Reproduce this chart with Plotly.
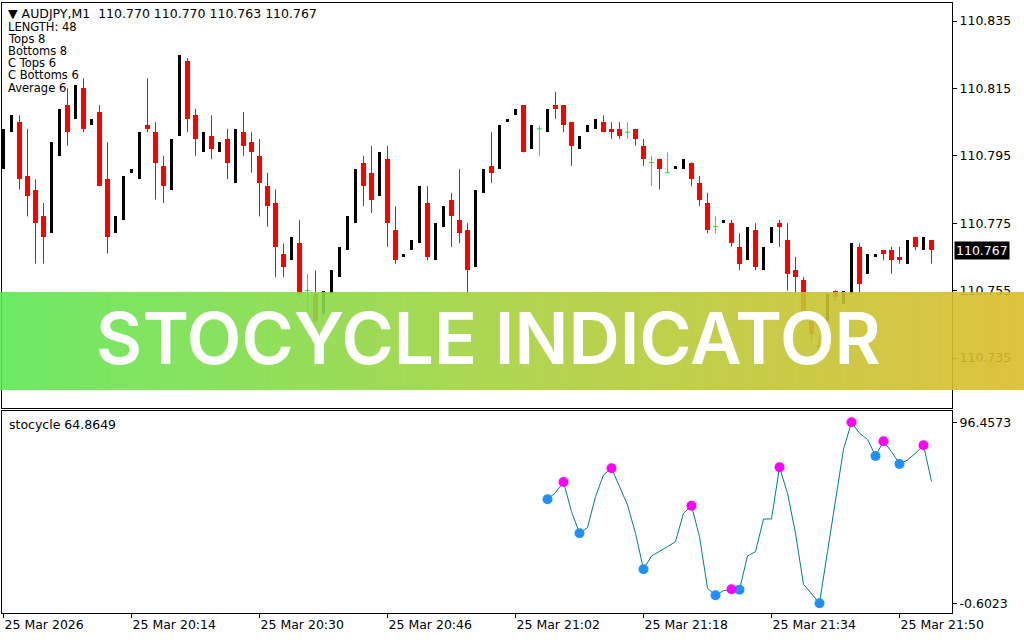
import base64
import struct
import zlib
import plotly.graph_objects as go

W, H = 1024, 640

# ---------------- data ----------------
symbol = "AUDJPY,M1"
time_tick_index = [0, 16, 32, 48, 64, 80, 96, 112]
time_tick_labels = ["25 Mar 2026", "25 Mar 20:14", "25 Mar 20:30", "25 Mar 20:46",
                    "25 Mar 21:02", "25 Mar 21:18", "25 Mar 21:34", "25 Mar 21:50"]
price_ticks = [110.735, 110.755, 110.775, 110.795, 110.815, 110.835]

opens = [110.791, 110.802, 110.805, 110.789, 110.785, 110.777, 110.772, 110.795, 110.810, 110.806,
         110.815, 110.804, 110.808, 110.788, 110.772, 110.776, 110.790, 110.788, 110.804, 110.802,
         110.792, 110.785, 110.801, 110.823, 110.807, 110.796, 110.801, 110.796, 110.800, 110.787,
         110.802, 110.799, 110.795, 110.786, 110.781, 110.766, 110.764, 110.769, 110.755, 110.754,
         110.748, 110.754, 110.759, 110.767, 110.775, 110.793, 110.790, 110.783, 110.794, 110.773,
         110.765, 110.767, 110.769, 110.781, 110.764, 110.774, 110.782, 110.776, 110.773, 110.762,
         110.784, 110.792, 110.791, 110.805, 110.807, 110.810, 110.797, 110.803, 110.802, 110.810,
         110.810, 110.805, 110.797, 110.802, 110.803, 110.805, 110.803, 110.803, 110.802, 110.803,
         110.798, 110.793, 110.794, 110.790, 110.791, 110.791, 110.793, 110.787, 110.781, 110.774,
         110.775, 110.775, 110.768, 110.764, 110.773, 110.761, 110.769, 110.775, 110.770, 110.761,
         110.758, 110.746, 110.739, 110.746, 110.755, 110.751, 110.754, 110.768, 110.760, 110.765,
         110.767, 110.767, 110.765, 110.763, 110.771, 110.767, 110.770]
highs = [110.803, 110.807, 110.807, 110.803, 110.788, 110.781, 110.799, 110.809, 110.815, 110.816,
         110.818, 110.806, 110.810, 110.799, 110.777, 110.789, 110.791, 110.802, 110.818, 110.805,
         110.795, 110.800, 110.825, 110.824, 110.809, 110.802, 110.807, 110.799, 110.803, 110.803,
         110.808, 110.802, 110.800, 110.790, 110.785, 110.769, 110.771, 110.776, 110.760, 110.761,
         110.755, 110.761, 110.768, 110.777, 110.791, 110.795, 110.798, 110.796, 110.798, 110.780,
         110.766, 110.770, 110.786, 110.786, 110.775, 110.780, 110.784, 110.791, 110.775, 110.785,
         110.791, 110.802, 110.804, 110.806, 110.809, 110.810, 110.804, 110.804, 110.809, 110.814,
         110.810, 110.805, 110.801, 110.804, 110.806, 110.807, 110.805, 110.805, 110.805, 110.803,
         110.800, 110.795, 110.794, 110.796, 110.792, 110.794, 110.793, 110.789, 110.784, 110.777,
         110.776, 110.776, 110.772, 110.774, 110.775, 110.768, 110.774, 110.776, 110.775, 110.765,
         110.759, 110.750, 110.742, 110.754, 110.755, 110.755, 110.769, 110.769, 110.766, 110.766,
         110.767, 110.768, 110.768, 110.770, 110.771, 110.771, 110.770]
lows = [110.791, 110.802, 110.785, 110.777, 110.763, 110.763, 110.772, 110.795, 110.798, 110.806,
        110.802, 110.804, 110.786, 110.766, 110.772, 110.776, 110.790, 110.788, 110.802, 110.782,
        110.781, 110.785, 110.801, 110.802, 110.795, 110.796, 110.794, 110.796, 110.788, 110.787,
        110.795, 110.790, 110.777, 110.774, 110.759, 110.759, 110.764, 110.753, 110.746, 110.745,
        110.748, 110.754, 110.759, 110.767, 110.775, 110.780, 110.778, 110.783, 110.768, 110.763,
        110.765, 110.767, 110.769, 110.764, 110.764, 110.774, 110.768, 110.769, 110.754, 110.762,
        110.784, 110.787, 110.791, 110.805, 110.807, 110.796, 110.797, 110.795, 110.802, 110.806,
        110.802, 110.792, 110.797, 110.802, 110.803, 110.802, 110.800, 110.800, 110.800, 110.798,
        110.792, 110.786, 110.785, 110.790, 110.791, 110.791, 110.786, 110.780, 110.772, 110.772,
        110.775, 110.768, 110.761, 110.764, 110.761, 110.761, 110.769, 110.768, 110.755, 110.754,
        110.748, 110.740, 110.736, 110.746, 110.752, 110.751, 110.754, 110.754, 110.760, 110.765,
        110.764, 110.760, 110.763, 110.763, 110.767, 110.767, 110.763]
closes = [110.803, 110.807, 110.788, 110.783, 110.775, 110.771, 110.799, 110.809, 110.802, 110.816,
          110.803, 110.806, 110.786, 110.771, 110.777, 110.789, 110.791, 110.802, 110.803, 110.793,
          110.786, 110.800, 110.825, 110.806, 110.800, 110.802, 110.797, 110.799, 110.793, 110.803,
          110.798, 110.796, 110.787, 110.780, 110.768, 110.762, 110.771, 110.754, 110.755, 110.746,
          110.755, 110.761, 110.768, 110.777, 110.791, 110.786, 110.782, 110.796, 110.775, 110.764,
          110.766, 110.770, 110.786, 110.765, 110.775, 110.780, 110.777, 110.772, 110.761, 110.785,
          110.791, 110.790, 110.804, 110.806, 110.809, 110.796, 110.804, 110.803, 110.809, 110.809,
          110.804, 110.798, 110.801, 110.804, 110.806, 110.802, 110.802, 110.801, 110.802, 110.800,
          110.794, 110.793, 110.791, 110.790, 110.792, 110.794, 110.788, 110.782, 110.773, 110.774,
          110.776, 110.769, 110.763, 110.774, 110.762, 110.768, 110.774, 110.774, 110.760, 110.759,
          110.749, 110.742, 110.738, 110.754, 110.753, 110.755, 110.769, 110.757, 110.766, 110.766,
          110.766, 110.764, 110.764, 110.770, 110.768, 110.771, 110.767]

stoc_start = 68
stoc_values = [55.17, 58.74, 64.46, 48.55, 36.94, 39.98, 56.60, 68.22, 71.79, 61.96,
               52.13, 36.94, 17.63, 24.78, 27.11, 29.79, 32.47, 47.66, 51.77, 35.15,
               7.45, 3.69, 6.19, 6.91, 6.73, 24.78, 27.11, 44.62, 44.62, 72.33,
               58.39, 36.94, 9.59, 4.77, -0.6023, 27.11, 54.81, 81.98, 96.4573, 90.56,
               87.34, 78.41, 86.27, 80.73, 74.12, 76.26, 79.84, 84.13, 64.8649]
stoc_tops = [70, 76, 86, 91, 97, 106, 110, 115]
stoc_bottoms = [68, 72, 80, 89, 92, 102, 109, 112]
stoc_ticks = [96.4573, -0.6023]
info_lines = ["LENGTH: 48", "Tops 8", "Bottoms 8", "C Tops 6", "C Bottoms 6", "Average 6"]

# ---------------- helpers ----------------
FONT = "DejaVu Sans"
RED, BLACK, LIME = "#ff0000", "#000000", "#00ff00"


def gradient_png(stops, n=256, rows=4):
    row = bytearray()
    for k in range(n):
        t = k / (n - 1)
        for j in range(len(stops) - 1):
            t0, c0 = stops[j]
            t1, c1 = stops[j + 1]
            if t0 <= t <= t1:
                f = (t - t0) / (t1 - t0) if t1 > t0 else 0
                row += bytes(int(round(c0[m] + (c1[m] - c0[m]) * f)) for m in range(3))
                break
    raw = b"".join(b"\x00" + bytes(row) for _ in range(rows))

    def chunk(tag, data):
        return (struct.pack(">I", len(data)) + tag + data +
                struct.pack(">I", zlib.crc32(tag + data) & 0xFFFFFFFF))

    ihdr = struct.pack(">IIBBBBB", n, rows, 8, 2, 0, 0, 0)
    png = (b"\x89PNG\r\n\x1a\n" + chunk(b"IHDR", ihdr) +
           chunk(b"IDAT", zlib.compress(raw)) + chunk(b"IEND", b""))
    return "data:image/png;base64," + base64.b64encode(png).decode()


n = len(opens)
idx = list(range(n))
red = [i for i in idx if closes[i] < opens[i]]
black = [i for i in idx if closes[i] > opens[i]]
doji = [i for i in idx if closes[i] == opens[i]]

fig = go.Figure()

# red wicks
wx, wy = [], []
for i in red:
    wx += [i, i, None]
    wy += [highs[i], lows[i], None]
fig.add_trace(go.Scatter(x=wx, y=wy, mode="lines", line=dict(color=RED, width=1),
                         xaxis="x", yaxis="y", hoverinfo="skip", showlegend=False))
# red bodies
fig.add_trace(go.Bar(x=red, y=[opens[i] - closes[i] for i in red], base=[closes[i] for i in red],
                     width=0.625, marker=dict(color=RED, line=dict(width=0)),
                     xaxis="x", yaxis="y", showlegend=False))
# black bodies
fig.add_trace(go.Bar(x=black, y=[closes[i] - opens[i] for i in black], base=[opens[i] for i in black],
                     width=0.375, marker=dict(color=BLACK, line=dict(width=0)),
                     xaxis="x", yaxis="y", showlegend=False))
# doji crosses
dx, dy = [], []
for i in doji:
    dx += [i, i, None, i - 0.3125, i + 0.3125, None]
    dy += [highs[i], lows[i], None, opens[i], opens[i], None]
fig.add_trace(go.Scatter(x=dx, y=dy, mode="lines", line=dict(color=LIME, width=1),
                         xaxis="x", yaxis="y", hoverinfo="skip", showlegend=False))

# stocycle indicator
sx = list(range(stoc_start, stoc_start + len(stoc_values)))
fig.add_trace(go.Scatter(x=sx, y=stoc_values, mode="lines", line=dict(color="#008080", width=1),
                         xaxis="x2", yaxis="y2", showlegend=False))
fig.add_trace(go.Scatter(x=stoc_bottoms, y=[stoc_values[i - stoc_start] for i in stoc_bottoms],
                         mode="markers", marker=dict(color="#1e90ff", size=10, line=dict(width=0)),
                         xaxis="x2", yaxis="y2", showlegend=False))
fig.add_trace(go.Scatter(x=stoc_tops, y=[stoc_values[i - stoc_start] for i in stoc_tops],
                         mode="markers", marker=dict(color="#ff00ff", size=10, line=dict(width=0)),
                         xaxis="x2", yaxis="y2", showlegend=False))

# ---------------- layout ----------------
px_per_bar = 8.0
x_left_px, x_right_px, first_bar_px = 2, 952, 3.5
xr = [(x_left_px - first_bar_px) / px_per_bar, (x_right_px - first_bar_px) / px_per_bar]


def price_at(ypx):
    return 110.835 - (ypx - 21) / 3370.0


def stoc_at(ypx):
    return 96.4573 - (ypx - 422.3) * 0.5362


main_top, main_bot = 3, 408
sub_top, sub_bot = 411, 613

axis_common = dict(showgrid=False, zeroline=False, showline=True, linecolor="black",
                   linewidth=1, mirror=True, automargin=False)
tickfont = dict(family=FONT, size=12.5, color="black")

fig.update_layout(
    width=W, height=H, margin=dict(l=0, r=0, t=0, b=0, pad=0), autosize=False,
    paper_bgcolor="white", plot_bgcolor="white",
    barmode="overlay", bargap=0, showlegend=False,
    xaxis=dict(domain=[x_left_px / W, x_right_px / W], range=xr, anchor="y",
               showticklabels=False, ticks="", **axis_common),
    yaxis=dict(domain=[1 - main_bot / H, 1 - main_top / H],
               range=[price_at(main_bot), price_at(main_top)], side="right", anchor="x",
               tickvals=price_ticks, ticktext=[f"{v:.3f}" for v in price_ticks],
               ticks="outside", ticklen=4, tickcolor="black", tickfont=tickfont, **axis_common),
    xaxis2=dict(domain=[x_left_px / W, x_right_px / W], range=xr, anchor="y2",
                tickvals=time_tick_index, ticktext=time_tick_labels,
                ticks="outside", ticklen=4, tickcolor="black", tickfont=tickfont,
                ticklabelposition="outside right", **axis_common),
    yaxis2=dict(domain=[1 - sub_bot / H, 1 - sub_top / H],
                range=[stoc_at(sub_bot), stoc_at(sub_top)], side="right", anchor="x2",
                tickvals=stoc_ticks, ticktext=[f"{v:.4f}" for v in stoc_ticks],
                ticks="outside", ticklen=4, tickcolor="black", tickfont=tickfont, **axis_common),
)

hdr_font = dict(family=FONT, size=11.5, color="black")
ann = []
ohlc_text = " ".join(f"{v:.3f}" for v in (opens[-1], highs[-1], lows[-1], closes[-1]))
ann.append(dict(x=7 / W, y=1 - 14 / H, xref="paper", yref="paper", xanchor="left", yanchor="middle",
                text="\u25bc " + symbol + "  " + ohlc_text, showarrow=False, borderpad=0,
                font=dict(family=FONT, size=12.5, color="black")))
for k, line in enumerate(info_lines):
    ann.append(dict(x=7 / W, y=1 - (26.7 + 12.2 * k) / H, xref="paper", yref="paper",
                    xanchor="left", yanchor="middle", text=line, showarrow=False, borderpad=0,
                    font=hdr_font))
ann.append(dict(x=7 / W, y=1 - 424 / H, xref="paper", yref="paper", xanchor="left", yanchor="middle",
                text=f"stocycle {stoc_values[-1]}", showarrow=False,
                font=dict(family=FONT, size=12.5, color="black")))
# current price tag
ann.append(dict(x=954 / W, y=closes[-1], xref="paper", yref="y", xanchor="left", yanchor="middle",
                text=f"{closes[-1]:.3f}", showarrow=False, bgcolor="black", borderpad=1,
                font=dict(family=FONT, size=12.5, color="white")))
# banner title
ann.append(dict(x=488 / W, y=1 - 338 / H, xref="paper", yref="paper", xanchor="center",
                yanchor="middle", text="STOCYCLE INDICATOR", showarrow=False,
                font=dict(family="Inter", size=71, color="white", weight=600)))
fig.update_layout(annotations=ann)

banner_src = gradient_png([(0.0, (94, 232, 86)), (0.5, (168, 210, 62)), (1.0, (220, 188, 42))])
fig.add_layout_image(dict(source=banner_src, xref="paper", yref="paper", x=0, y=1 - 292 / H,
                          sizex=1, sizey=98 / H, sizing="stretch", xanchor="left", yanchor="top",
                          layer="above", opacity=0.9))

fig.write_html("out.html", config={"displayModeBar": False},
               post_script="document.body.style.margin='0';document.body.style.overflow='hidden';")
